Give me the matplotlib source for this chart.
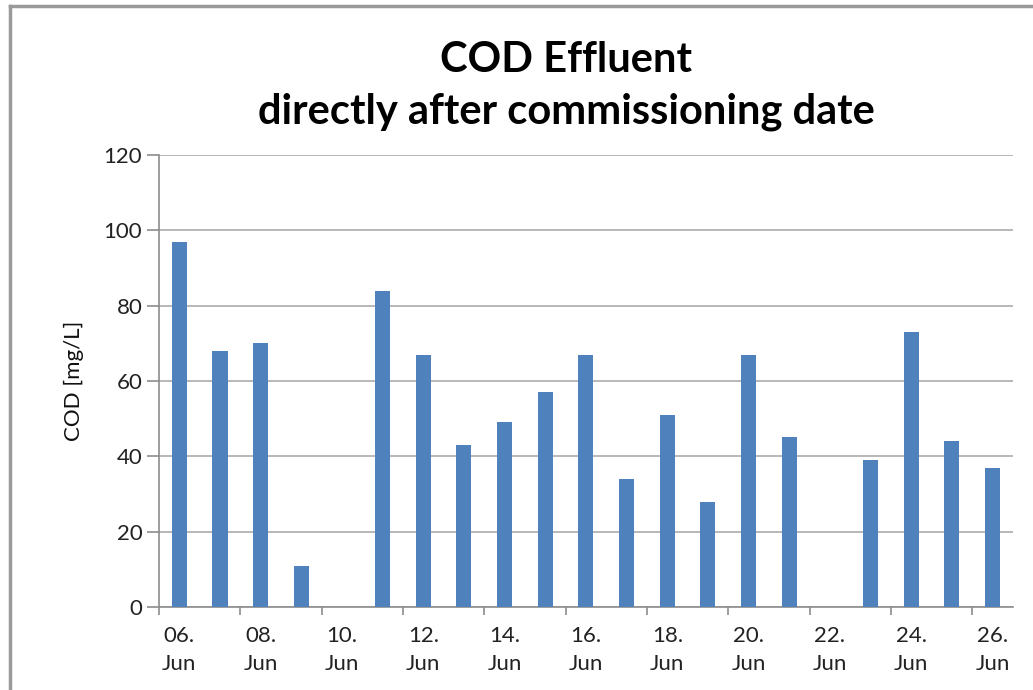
import numpy as np
import matplotlib
matplotlib.use("Agg")
import matplotlib.pyplot as plt
from matplotlib.lines import Line2D

# daily COD effluent, no sample on 10. and 22. Jun
days = ['06.', '07.', '08.', '09.', '10.', '11.', '12.', '13.', '14.', '15.', '16.',
        '17.', '18.', '19.', '20.', '21.', '22.', '23.', '24.', '25.', '26.']
cod = [97, 68, 70, 11, None, 84, 67, 43, 49, 57, 67,
       34, 51, 28, 67, 45, None, 39, 73, 44, 37]
yticks = [0, 20, 40, 60, 80, 100, 120]

plt.rcParams['font.family'] = ['Lato', 'DejaVu Sans']

fig = plt.figure(figsize=(10.33, 6.9), dpi=100)
ax = fig.add_axes([0.1539, 0.1203, 0.8267, 0.6551])

x = np.arange(len(days))
vals = np.array([np.nan if v is None else v for v in cod], dtype=float)
ax.bar(x, vals, width=0.37, color='#4F81BD', zorder=3)

ax.set_xlim(-0.5, len(days) - 0.5)
ax.set_ylim(0, 120)
ax.set_yticks(yticks)
ax.yaxis.grid(True, color='#ababab', linewidth=1.2, zorder=0)

# labels every second day, tick marks on category boundaries
ax.set_xticks(x[::2])
ax.set_xticklabels([d + '\nJun' for d in days[::2]], fontsize=16, color='#222222',
                   linespacing=1.45)
ax.set_xticks(np.arange(-0.5, len(days), 2), minor=True)
ax.tick_params(axis='x', which='major', length=0, pad=14)
ax.tick_params(axis='x', which='minor', length=6, color='#8c8c8c', width=1.2)
ax.tick_params(axis='y', length=9, color='#8c8c8c', width=1.2, labelsize=16,
               labelcolor='#222222', pad=3)

for s in ['top', 'right']:
    ax.spines[s].set_visible(False)
for s in ['left', 'bottom']:
    ax.spines[s].set_color('#8c8c8c')
    ax.spines[s].set_linewidth(1.2)

ax.set_ylabel('COD [mg/L]', fontsize=16, color='#111111', labelpad=14)

fig.text(0.548, 0.913, 'COD Effluent', ha='center', va='center',
         fontsize=30, fontweight='bold')
fig.text(0.548, 0.838, 'directly after commissioning date', ha='center', va='center',
         fontsize=30, fontweight='bold')

# outer frame (top and left edges)
fig.add_artist(Line2D([0.0097, 1.0], [0.992, 0.992], color='#9a9a9a', linewidth=2.5,
                      transform=fig.transFigure))
fig.add_artist(Line2D([0.0097, 0.0097], [0.0, 0.992], color='#9a9a9a', linewidth=2.5,
                      transform=fig.transFigure))

fig.savefig('out.png', dpi=100)
